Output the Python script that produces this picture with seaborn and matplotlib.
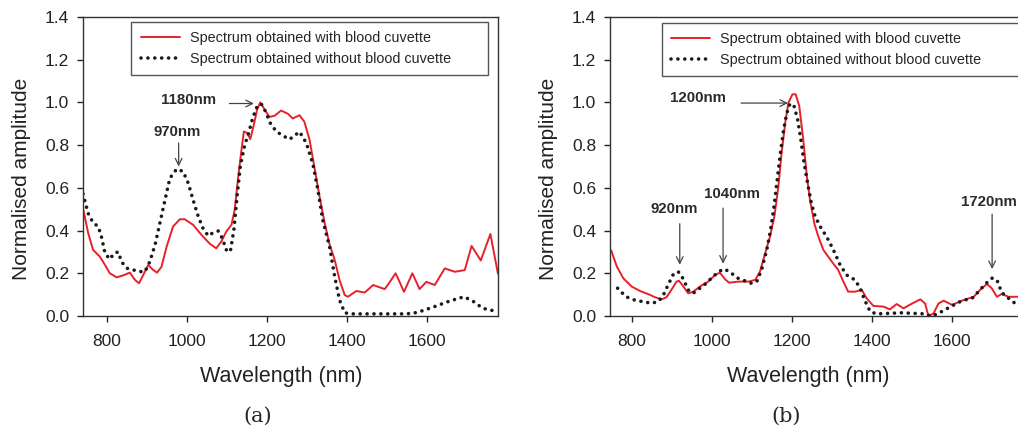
import pandas as pd
import matplotlib
matplotlib.use('Agg')
import matplotlib.pyplot as plt
import seaborn as sns

# panel (a)
wl_a_blood = [741, 754, 766, 783, 796, 808, 825, 841, 858, 871, 881, 891, 904, 916, 926, 937,
              950, 966, 983, 995, 1016, 1037, 1058, 1074, 1087, 1099, 1112, 1120, 1128, 1137,
              1143, 1151, 1159, 1167, 1176, 1184, 1195, 1207, 1220, 1236, 1253, 1265, 1282,
              1294, 1307, 1319, 1332, 1345, 1357, 1370, 1382, 1395, 1403, 1424, 1445, 1466,
              1495, 1508, 1522, 1532, 1543, 1564, 1582, 1599, 1620, 1645, 1670, 1695, 1712,
              1735, 1759, 1778]
amp_a_blood = [0.505, 0.388, 0.31, 0.278, 0.239, 0.20, 0.181, 0.19, 0.203, 0.169, 0.153, 0.19,
               0.239, 0.216, 0.203, 0.23, 0.325, 0.419, 0.453, 0.453, 0.427, 0.38, 0.338, 0.317,
               0.35, 0.395, 0.427, 0.497, 0.638, 0.778, 0.864, 0.857, 0.828, 0.888, 0.966, 1.0,
               0.966, 0.932, 0.938, 0.962, 0.947, 0.925, 0.94, 0.91, 0.826, 0.70, 0.56, 0.434,
               0.337, 0.262, 0.169, 0.098, 0.09, 0.117, 0.11, 0.145, 0.126, 0.16, 0.20, 0.16,
               0.113, 0.20, 0.126, 0.16, 0.145, 0.223, 0.207, 0.215, 0.328, 0.26, 0.384, 0.197]

wl_a_empty = [741, 754, 766, 779, 787, 796, 808, 819, 829, 837, 850, 866, 883, 896, 908, 921,
              933, 946, 958, 975, 991, 1004, 1016, 1029, 1041, 1054, 1066, 1079, 1089, 1099,
              1109, 1118, 1126, 1134, 1145, 1155, 1164, 1174, 1186, 1197, 1209, 1224, 1240,
              1257, 1270, 1282, 1299, 1315, 1328, 1340, 1357, 1370, 1382, 1395, 1411, 1450,
              1500, 1540, 1565, 1590, 1624, 1657, 1693, 1715, 1740, 1778]
amp_a_empty = [0.572, 0.48, 0.437, 0.419, 0.372, 0.294, 0.266, 0.294, 0.30, 0.255, 0.224, 0.216,
               0.208, 0.208, 0.255, 0.333, 0.434, 0.544, 0.645, 0.688, 0.677, 0.622, 0.544,
               0.466, 0.41, 0.375, 0.39, 0.398, 0.364, 0.31, 0.30, 0.403, 0.56, 0.70, 0.80,
               0.857, 0.92, 0.974, 0.994, 0.958, 0.903, 0.864, 0.845, 0.827, 0.845, 0.863, 0.81,
               0.715, 0.59, 0.45, 0.325, 0.184, 0.075, 0.015, 0.01, 0.01, 0.01, 0.01, 0.012,
               0.025, 0.047, 0.07, 0.09, 0.07, 0.036, 0.02]

# panel (b)
wl_b_blood = [749, 763, 779, 800, 821, 842, 858, 875, 887, 900, 912, 918, 929, 941, 954, 970,
              991, 1008, 1020, 1033, 1043, 1066, 1091, 1108, 1120, 1133, 1145, 1156, 1166, 1174,
              1183, 1191, 1201, 1209, 1218, 1228, 1237, 1245, 1256, 1266, 1278, 1299, 1315, 1328,
              1340, 1357, 1374, 1386, 1403, 1428, 1444, 1461, 1478, 1499, 1520, 1532, 1540,
              1553, 1565, 1578, 1599, 1624, 1653, 1669, 1686, 1698, 1711, 1723, 1740, 1763, 1780]
amp_b_blood = [0.307, 0.232, 0.177, 0.138, 0.117, 0.102, 0.088, 0.078, 0.088, 0.125, 0.161, 0.165,
               0.138, 0.106, 0.114, 0.138, 0.161, 0.192, 0.203, 0.172, 0.156, 0.161, 0.161, 0.169,
               0.208, 0.294, 0.372, 0.466, 0.607, 0.764, 0.905, 0.999, 1.038, 1.038, 0.983, 0.826,
               0.654, 0.54, 0.43, 0.37, 0.31, 0.255, 0.216, 0.161, 0.114, 0.114, 0.122, 0.083,
               0.047, 0.044, 0.031, 0.056, 0.036, 0.058, 0.078, 0.058, 0.0, 0.012, 0.058, 0.072,
               0.052, 0.072, 0.09, 0.122, 0.15, 0.13, 0.09, 0.103, 0.09, 0.09, 0.095]

wl_b_empty = [765, 786, 807, 828, 849, 866, 878, 891, 903, 916, 928, 941, 953, 970, 986, 1003,
              1020, 1032, 1049, 1066, 1082, 1099, 1112, 1124, 1137, 1145, 1154, 1162, 1170, 1179,
              1187, 1195, 1205, 1214, 1222, 1230, 1239, 1248, 1257, 1270, 1286, 1303, 1320, 1336,
              1357, 1370, 1381, 1395, 1411, 1473, 1532, 1545, 1561, 1582, 1599, 1624, 1649, 1665,
              1682, 1699, 1711, 1723, 1740, 1757, 1775]
amp_b_empty = [0.13, 0.09, 0.075, 0.067, 0.06, 0.067, 0.094, 0.146, 0.192, 0.208, 0.176, 0.122,
               0.106, 0.13, 0.153, 0.185, 0.211, 0.22, 0.20, 0.176, 0.165, 0.153, 0.161, 0.216,
               0.31, 0.388, 0.497, 0.622, 0.748, 0.873, 0.95, 0.995, 0.983, 0.92, 0.826, 0.717,
               0.62, 0.53, 0.47, 0.419, 0.372, 0.31, 0.239, 0.192, 0.169, 0.13, 0.075, 0.02, 0.01,
               0.015, 0.01, 0.0, 0.008, 0.03, 0.047, 0.072, 0.083, 0.114, 0.15, 0.177, 0.169,
               0.11, 0.083, 0.058, 0.05]

# annotations: (label, text x, text y, arrow tail, arrow head)
notes_a = [('1180nm', 1004, 1.01, (1107, 0.995), (1168, 0.995)),
           ('970nm', 975, 0.86, (980, 0.81), (980, 0.70))]
notes_b = [('1200nm', 966, 1.02, (1073, 0.997), (1190, 0.997)),
           ('920nm', 905, 0.50, (920, 0.432), (920, 0.24)),
           ('1040nm', 1050, 0.57, (1028, 0.505), (1028, 0.245)),
           ('1720nm', 1692, 0.535, (1699, 0.477), (1699, 0.22))]

label_blood = 'Spectrum obtained with blood cuvette'
label_empty = 'Spectrum obtained without blood cuvette'

sns.set_style('ticks')
plt.rcParams['font.family'] = ['Liberation Sans', 'DejaVu Sans']

fig = plt.figure(figsize=(10.18, 4.29), dpi=100)
W, H = 1018, 429
ax_a = fig.add_axes([83 / W, 1 - 316 / H, 415 / W, 299 / H])
ax_b = fig.add_axes([610 / W, 1 - 316 / H, 415 / W, 299 / H])

panels = [
    (ax_a, wl_a_blood, amp_a_blood, wl_a_empty, amp_a_empty, notes_a, (741, 1778),
     (0.116, 0.983), 258, '(a)'),
    (ax_b, wl_b_blood, amp_b_blood, wl_b_empty, amp_b_empty, notes_b, (746, 1781),
     (0.125, 0.98), 786, '(b)'),
]

for ax, wr, ar, we, ae, notes, xlim, legpos, capx, cap in panels:
    df_r = pd.DataFrame({'wl': wr, 'amp': ar})
    df_e = pd.DataFrame({'wl': we, 'amp': ae})
    sns.lineplot(data=df_r, x='wl', y='amp', ax=ax, color='#e8202a', lw=1.4,
                 label=label_blood, sort=False)
    sns.lineplot(data=df_e, x='wl', y='amp', ax=ax, color='#1a1a1a', lw=2.6,
                 linestyle=(0, (0.01, 1.9)), dash_capstyle='round',
                 label=label_empty, sort=False)

    ax.set_xlim(*xlim)
    ax.set_ylim(0, 1.4)
    ax.set_xticks([800, 1000, 1200, 1400, 1600])
    ax.set_yticks([0.0, 0.2, 0.4, 0.6, 0.8, 1.0, 1.2, 1.4])
    ax.set_yticklabels(['0.0', '0.2', '0.4', '0.6', '0.8', '1.0', '1.2', '1.4'])
    ax.tick_params(axis='both', labelsize=12.5, length=4, width=1, color='#222222',
                   labelcolor='#222222')
    ax.tick_params(axis='x', pad=9)
    ax.tick_params(axis='y', pad=6)
    for s in ax.spines.values():
        s.set_visible(True)
        s.set_color('#333333')
        s.set_linewidth(1.0)

    ax.set_xlabel('Wavelength (nm)', fontsize=15.5, color='#222222')
    ax.set_ylabel('Normalised amplitude', fontsize=15, color='#222222')
    ax.xaxis.set_label_coords(0.477, -0.167)
    ax.yaxis.set_label_coords(-0.125, 0.458)

    for txt, tx, ty, tail, head in notes:
        ax.text(tx, ty, txt, fontsize=10.8, fontweight='bold', color='#2a2a2a',
                ha='center', va='center')
        ax.annotate('', xy=head, xytext=tail,
                    arrowprops=dict(arrowstyle='->', color='#444444', lw=0.9,
                                    mutation_scale=12, shrinkA=0, shrinkB=0))

    leg = ax.legend(loc='upper left', bbox_to_anchor=(legpos[0], legpos[1], 0.86, 0),
                    mode='expand', fontsize=10.4, frameon=True,
                    fancybox=False, framealpha=1, edgecolor='#555555', handlelength=2.7,
                    handletextpad=0.7, borderpad=0.65, labelspacing=0.45, borderaxespad=0)
    leg.get_frame().set_linewidth(1.0)

    fig.text(capx / W, 1 - 416 / H, cap, ha='center', va='center',
             fontsize=15, family='DejaVu Serif')

plt.savefig('out.png', dpi=100)
